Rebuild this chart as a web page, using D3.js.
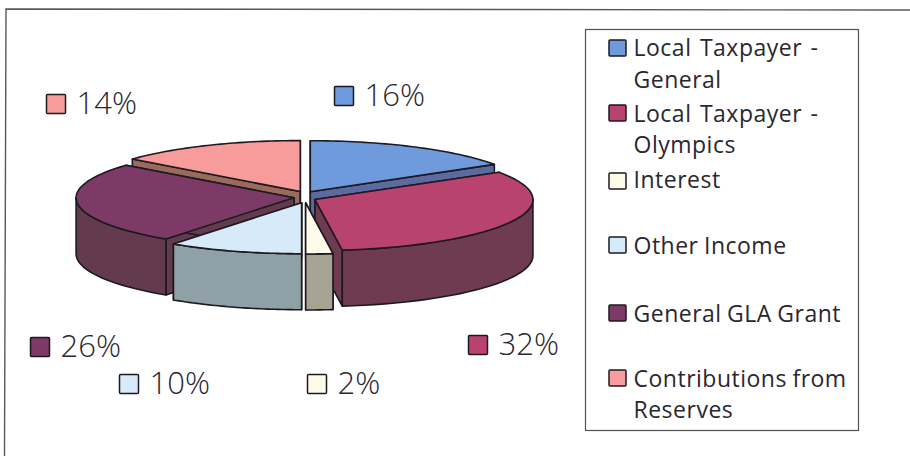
<!DOCTYPE html>
<html><head><meta charset="utf-8">
<script src="https://cdn.jsdelivr.net/npm/d3@7"></script>
<style>html,body{margin:0;background:#fff}svg{display:block}text{font-family:"Open Sans",sans-serif;fill:#2a2730}</style>
</head><body><svg id="c" width="910" height="456"></svg>
<script>
const categories=["Local Taxpayer - General","Local Taxpayer - Olympics","Interest","Other Income","General GLA Grant","Contributions from Reserves"];
const shares=[16,32,2,10,26,14];
const topColors=["#6f9bdc","#b8436f","#fdfbe8","#d6eafa","#7d3a66","#f79c9a"];
const wallColors=["#5c6aa0","#6e3b50","#a7a392","#8fa0a6","#643a4e","#9a6a5c"];
const legendLines=[["Local Taxpayer -","General"],["Local Taxpayer -","Olympics"],["Interest"],["Other Income"],["General GLA Grant"],["Contributions from","Reserves"]];
const labelMarkerX=[334,468,307,119,30,46],labelMarkerY=[86,335,374,374,337,94];
const legendMarkerY=[40,105,173,237,305,370],legendLineY=[[56,88],[122,153],[188],[254],[322],[387,418]];
const svg=d3.select("#c");
const cx=305,cy=197,rx=218,ry=51,depth=56,ex=11,ey=6;
const sx=d3.scaleLinear().domain([-1,1]).range([-rx,rx]);
const sy=d3.scaleLinear().domain([-1,1]).range([ry,-ry]);
const arcs=d3.pie().sort(null).value(d=>d)(shares);
const line=d3.line();
const stroke="#1c1a20";
svg.append("path").attr("d","M4.5,456L6,9L910,10").attr("fill","none").attr("stroke","#5a5855").attr("stroke-width",1.4);
function geom(a){const m=(a.startAngle+a.endAngle)/2;
 const ox=cx+ex*Math.sin(m),oy=cy-ey*Math.cos(m);
 const pts=d3.range(0,41).map(i=>{const t=a.startAngle+(a.endAngle-a.startAngle)*i/40;return [ox+sx(Math.sin(t)),oy+sy(Math.cos(t)),t];});
 return {ox,oy,pts};}
const order=[5,0,4,1,3,2];
const draw=svg.append("g").attr("stroke",stroke).attr("stroke-width",1.6).attr("stroke-linejoin","round");
order.forEach(i=>{const g=geom(arcs[i]);const down=p=>[p[0],p[1]+depth];
 const P0=g.pts[0],P1=g.pts[40],O=[g.ox,g.oy];
 draw.append("path").attr("d",line([O,[P0[0],P0[1]],down(P0),down(O)])+"Z").attr("fill",wallColors[i]);
 draw.append("path").attr("d",line([O,[P1[0],P1[1]],down(P1),down(O)])+"Z").attr("fill",wallColors[i]);
 const f=g.pts.filter(p=>Math.cos(p[2])<=0.02);
 if(f.length>1){const top=f.map(p=>[p[0],p[1]]);draw.append("path").attr("d",line(top.concat(f.map(down).reverse()))+"Z").attr("fill",wallColors[i]);}
 draw.append("path").attr("d",line([O].concat(g.pts.map(p=>[p[0],p[1]])))+"Z").attr("fill",topColors[i]);
});
// data labels
shares.forEach((v,i)=>{
 const x=labelMarkerX[i],y=labelMarkerY[i];
 svg.append("rect").attr("x",x+.5).attr("y",y+.5).attr("width",19).attr("height",19).attr("rx",1).attr("fill",topColors[i]).attr("stroke",stroke).attr("stroke-width",1.5);
 svg.append("text").attr("x",x+30.5).attr("y",y+19.5).attr("font-size",31).attr("font-weight",300).text(v+"%");
});
// legend
svg.append("rect").attr("x",585.5).attr("y",29.5).attr("width",273).attr("height",401).attr("fill","none").attr("stroke","#55534f").attr("stroke-width",1.2);
categories.forEach((c,i)=>{
 svg.append("rect").attr("x",609).attr("y",legendMarkerY[i]).attr("width",17).attr("height",16).attr("rx",1).attr("fill",topColors[i]).attr("stroke",stroke).attr("stroke-width",1.5);
 legendLines[i].forEach((t,j)=>svg.append("text").attr("x",633.5).attr("y",legendLineY[i][j]).attr("font-size",23).attr("letter-spacing",.5).attr("word-spacing",i<2?2:-1).text(t));
});
</script></body></html>
